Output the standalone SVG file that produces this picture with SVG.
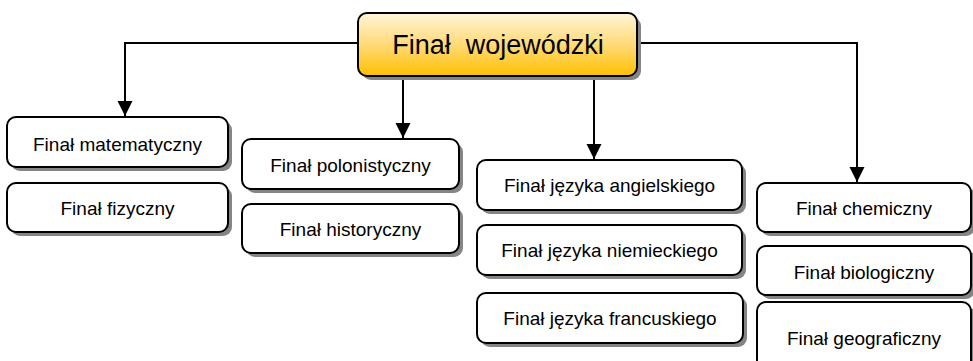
<svg xmlns="http://www.w3.org/2000/svg" width="973" height="361" viewBox="0 0 973 361">
<defs>
<linearGradient id="gold" x1="0" y1="0" x2="0" y2="1">
<stop offset="0" stop-color="#FFF5D8"/>
<stop offset="0.5" stop-color="#FFDA78"/>
<stop offset="1" stop-color="#FFC000"/>
</linearGradient>
<marker id="arr" markerUnits="userSpaceOnUse" markerWidth="16" markerHeight="16" refX="15" refY="7.5" orient="auto">
<path d="M0,0 L15,7.5 L0,15 z" fill="#000"/>
</marker>
<style>
.sh{fill:#858585}
.bx{fill:#fff;stroke:#000;stroke-width:2}
.tb{fill:url(#gold);stroke:#000;stroke-width:2}
.t{font-family:"Liberation Sans",Arial,sans-serif;font-size:19px;fill:#000;text-anchor:middle}
.tt{font-family:"Liberation Sans",Arial,sans-serif;font-size:27px;fill:#000;text-anchor:middle}
.c{fill:none;stroke:#000;stroke-width:2}
</style>
</defs>
<rect width="973" height="361" fill="#fff"/>
<g id="connectors">
<path class="c" d="M358,43 H125 V116" marker-end="url(#arr)"/>
<path class="c" d="M637,43 H857 V182" marker-end="url(#arr)"/>
<path class="c" d="M403,76 V138" marker-end="url(#arr)"/>
<path class="c" d="M594,76 V159" marker-end="url(#arr)"/>
</g>
<g id="final-wojewodzki">
<rect class="sh" x="362" y="17" width="279" height="63" rx="9"/>
<rect class="tb" x="358" y="13" width="279" height="63" rx="9"/>
<text class="tt" x="498" y="54" xml:space="preserve">Finał  wojewódzki</text>
</g>
<g id="final-matematyczny">
<rect class="sh" x="11" y="121" width="221" height="50" rx="9"/>
<rect class="bx" x="7" y="117" width="221" height="50" rx="9"/>
<text class="t" x="117.5" y="150.5">Finał matematyczny</text>
</g>
<g id="final-fizyczny">
<rect class="sh" x="11" y="187" width="221" height="49" rx="9"/>
<rect class="bx" x="7" y="183" width="221" height="49" rx="9"/>
<text class="t" x="117.5" y="214.5">Finał fizyczny</text>
</g>
<g id="final-polonistyczny">
<rect class="sh" x="246" y="143" width="217" height="50" rx="9"/>
<rect class="bx" x="242" y="139" width="217" height="50" rx="9"/>
<text class="t" x="350.5" y="171.5">Finał polonistyczny</text>
</g>
<g id="final-historyczny">
<rect class="sh" x="246" y="208" width="217" height="49" rx="9"/>
<rect class="bx" x="242" y="204" width="217" height="49" rx="9"/>
<text class="t" x="350.5" y="235.5">Finał historyczny</text>
</g>
<g id="final-angielski">
<rect class="sh" x="481" y="164" width="265" height="50" rx="9"/>
<rect class="bx" x="477" y="160" width="265" height="50" rx="9"/>
<text class="t" x="609.5" y="191.5">Finał języka angielskiego</text>
</g>
<g id="final-niemiecki">
<rect class="sh" x="481" y="229" width="265" height="50" rx="9"/>
<rect class="bx" x="477" y="225" width="265" height="50" rx="9"/>
<text class="t" x="609.5" y="256.5">Finał języka niemieckiego</text>
</g>
<g id="final-francuski">
<rect class="sh" x="481" y="297" width="266" height="50" rx="9"/>
<rect class="bx" x="477" y="293" width="266" height="50" rx="9"/>
<text class="t" x="610" y="325">Finał języka francuskiego</text>
</g>
<g id="final-chemiczny">
<rect class="sh" x="761" y="187" width="214" height="49" rx="9"/>
<rect class="bx" x="757" y="183" width="214" height="49" rx="9"/>
<text class="t" x="864" y="215">Finał chemiczny</text>
</g>
<g id="final-biologiczny">
<rect class="sh" x="761" y="250" width="214" height="49" rx="9"/>
<rect class="bx" x="757" y="246" width="214" height="49" rx="9"/>
<text class="t" x="864" y="279">Finał biologiczny</text>
</g>
<g id="final-geograficzny">
<rect class="sh" x="761" y="306" width="214" height="70" rx="9"/>
<rect class="bx" x="757" y="302" width="214" height="70" rx="9"/>
<text class="t" x="864" y="345">Finał geograficzny</text>
</g>
</svg>
